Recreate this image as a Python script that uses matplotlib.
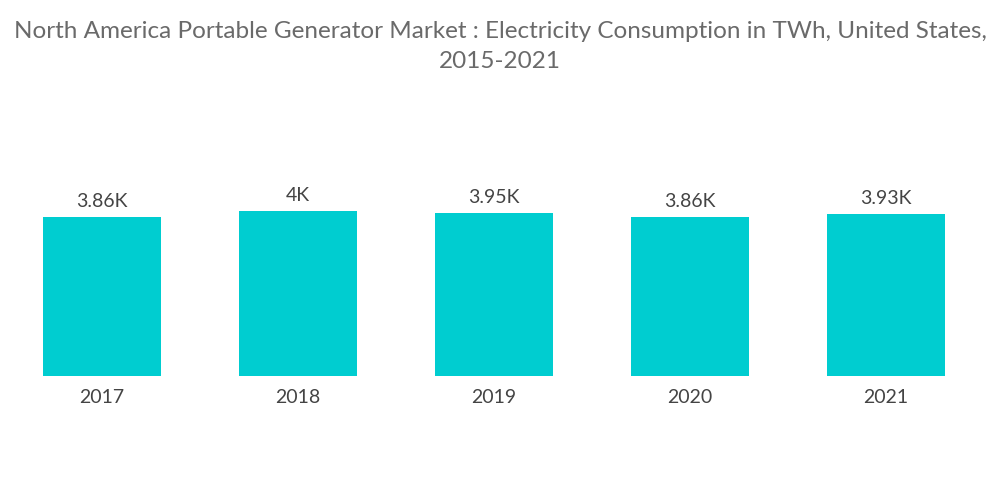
import matplotlib.pyplot as plt
import numpy as np

years = ["2017", "2018", "2019", "2020", "2021"]
values = [3860, 4000, 3950, 3860, 3930]
labels = ["3.86K", "4K", "3.95K", "3.86K", "3.93K"]

plt.rcParams["font.family"] = ["Lato", "DejaVu Sans"]

fig = plt.figure(figsize=(10, 5.04), dpi=100)
# axes: bottom at y=376px, top at 130px
ax = fig.add_axes([0.004, (504 - 376) / 504, 0.98, 246 / 504])
x = np.arange(len(years))
ax.bar(x, values, width=0.602, color="#00CDD0")
ax.set_xlim(-0.5, 4.5)
ax.set_ylim(0, 246 / 165 * 4000)
for xi, v, lab in zip(x, values, labels):
    ax.annotate(lab, (xi, v), xytext=(0, 5), textcoords="offset points",
                ha="center", va="bottom", fontsize=14, color="#444444")
ax.set_xticks(x)
ax.set_xticklabels(years, fontsize=14, color="#444444")
ax.tick_params(axis="x", length=0, pad=9.5)
ax.set_yticks([])
for s in ax.spines.values():
    s.set_visible(False)

fig.text(0.5, 1 - 31 / 504, "North America Portable Generator Market : Electricity Consumption in TWh, United States,",
         ha="center", va="center", fontsize=17.5, color="#6a6a6a")
fig.text(0.5, 1 - 62 / 504, "2015-2021", ha="center", va="center", fontsize=17.5, color="#6a6a6a")

fig.savefig("out.png", dpi=100)
